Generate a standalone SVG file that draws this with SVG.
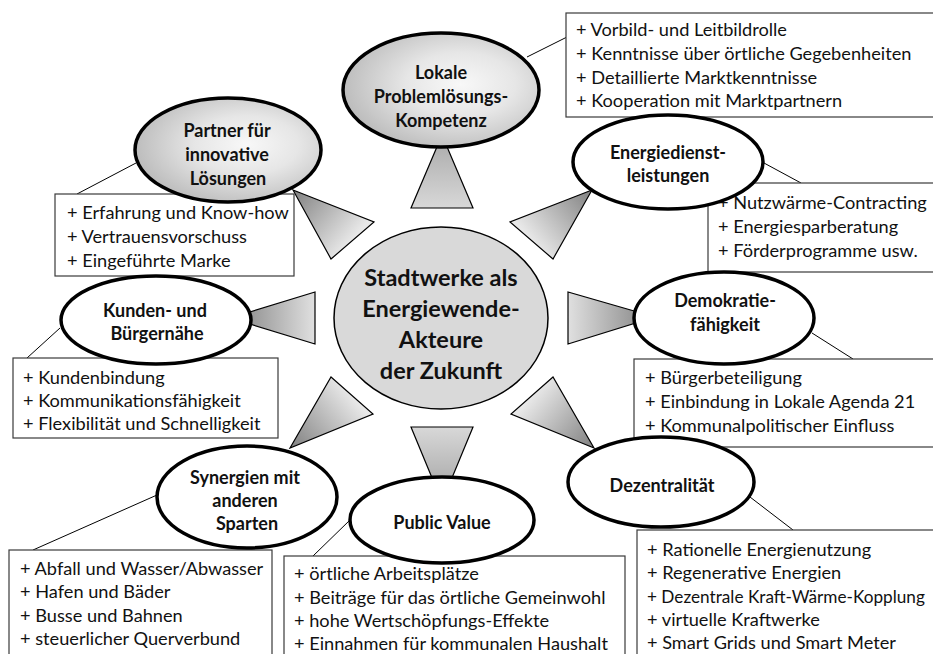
<svg xmlns="http://www.w3.org/2000/svg" width="933" height="654" viewBox="0 0 933 654">
<style>
  .box{fill:#fff;stroke:#3a3a3a;stroke-width:1.2}
  .sat{stroke:#000;stroke-width:3.5}
  .plain{fill:#fff}
  .lead{stroke:#000;stroke-width:1;fill:none}
  .tri{stroke:#000;stroke-width:1.2}
  .t{font-family:Lato,"Liberation Sans",sans-serif;font-size:18.2px;fill:#111}
  .h{font-family:Lato,"Liberation Sans",sans-serif;font-size:18px;font-weight:bold;fill:#111;text-anchor:middle}
  .c{font-family:Lato,"Liberation Sans",sans-serif;font-size:23.5px;font-weight:bold;fill:#111;text-anchor:middle}
</style>
<defs>
  <radialGradient id="gEll" cx="0.6" cy="0.45" r="0.7">
    <stop offset="0" stop-color="#f8f8f8"/>
    <stop offset="0.4" stop-color="#e6e6e6"/>
    <stop offset="1" stop-color="#b0b0b0"/>
  </radialGradient>
  <linearGradient id="gT1" gradientUnits="userSpaceOnUse" x1="352" y1="240" x2="293" y2="190"><stop offset="0" stop-color="#e8e8e8"/><stop offset="1" stop-color="#808080"/></linearGradient>
  <linearGradient id="gT2" gradientUnits="userSpaceOnUse" x1="442" y1="208" x2="442" y2="135"><stop offset="0" stop-color="#d8d8d8"/><stop offset="1" stop-color="#a8a8a8"/></linearGradient>
  <linearGradient id="gT3" gradientUnits="userSpaceOnUse" x1="531" y1="240" x2="592" y2="190"><stop offset="0" stop-color="#e8e8e8"/><stop offset="1" stop-color="#808080"/></linearGradient>
  <linearGradient id="gT4" gradientUnits="userSpaceOnUse" x1="568" y1="318" x2="655" y2="317"><stop offset="0" stop-color="#e0e0e0"/><stop offset="1" stop-color="#808080"/></linearGradient>
  <linearGradient id="gT5" gradientUnits="userSpaceOnUse" x1="532" y1="396" x2="594" y2="448"><stop offset="0" stop-color="#e8e8e8"/><stop offset="1" stop-color="#808080"/></linearGradient>
  <linearGradient id="gT6" gradientUnits="userSpaceOnUse" x1="442" y1="427" x2="442" y2="502"><stop offset="0" stop-color="#d8d8d8"/><stop offset="1" stop-color="#a0a0a0"/></linearGradient>
  <linearGradient id="gT7" gradientUnits="userSpaceOnUse" x1="352" y1="396" x2="290" y2="448"><stop offset="0" stop-color="#e8e8e8"/><stop offset="1" stop-color="#808080"/></linearGradient>
  <linearGradient id="gT8" gradientUnits="userSpaceOnUse" x1="315" y1="318" x2="230" y2="318"><stop offset="0" stop-color="#e0e0e0"/><stop offset="1" stop-color="#808080"/></linearGradient>
</defs>
<rect width="933" height="654" fill="#fff"/>

<g id="connectors">
  <line class="lead" x1="527" y1="57" x2="567" y2="37"/>
  <line class="lead" x1="136" y1="163" x2="77" y2="194"/>
  <line class="lead" x1="764" y1="163" x2="801" y2="183"/>
  <line class="lead" x1="60" y1="328" x2="27" y2="358"/>
  <line class="lead" x1="812" y1="333" x2="853" y2="359"/>
  <line class="lead" x1="157" y1="495" x2="33" y2="550"/>
  <line class="lead" x1="350" y1="520" x2="313" y2="556"/>
  <line class="lead" x1="750" y1="497" x2="793" y2="530"/>
  <polygon class="tri" fill="url(#gT1)" points="293,190 374,222 331,259"/>
  <polygon class="tri" fill="url(#gT2)" points="442,135 411,208 473,208"/>
  <polygon class="tri" fill="url(#gT3)" points="592,190 510,222 553,259"/>
  <polygon class="tri" fill="url(#gT4)" points="655,317 568,292 568,344"/>
  <polygon class="tri" fill="url(#gT5)" points="594,448 511,414 553,377"/>
  <polygon class="tri" fill="url(#gT6)" points="442,502 411,427 473,427"/>
  <polygon class="tri" fill="url(#gT7)" points="290,448 331,377 373,414"/>
  <polygon class="tri" fill="url(#gT8)" points="230,318 315,292 315,344"/>
</g>

<g id="center">
  <ellipse cx="441" cy="318" rx="107" ry="91" fill="#d9d9d9" stroke="#000" stroke-width="1.5"/>
  <text class="c" x="441" y="286">Stadtwerke als</text>
  <text class="c" x="441" y="317">Energiewende-</text>
  <text class="c" x="441" y="348">Akteure</text>
  <text class="c" x="441" y="379">der Zukunft</text>
</g>

<g id="lokale">
  <rect class="box" x="566" y="13" width="380" height="104"/>
  <text class="t" x="576" y="36">+ Vorbild- und Leitbildrolle</text>
  <text class="t" x="576" y="60">+ Kenntnisse über örtliche Gegebenheiten</text>
  <text class="t" x="576" y="84">+ Detaillierte Marktkenntnisse</text>
  <text class="t" x="576" y="107">+ Kooperation mit Marktpartnern</text>
  <ellipse class="sat" cx="441" cy="90" rx="98" ry="57" fill="url(#gEll)"/>
  <text class="h" x="441" y="79">Lokale</text>
  <text class="h" x="441" y="103">Problemlösungs-</text>
  <text class="h" x="441" y="127">Kompetenz</text>
</g>

<g id="partner">
  <rect class="box" x="55" y="194" width="239" height="82"/>
  <text class="t" x="67" y="219">+ Erfahrung und Know-how</text>
  <text class="t" x="67" y="243">+ Vertrauensvorschuss</text>
  <text class="t" x="67" y="267">+ Eingeführte Marke</text>
  <ellipse class="sat" cx="228" cy="150" rx="93" ry="52" fill="url(#gEll)"/>
  <text class="h" x="227" y="137">Partner für</text>
  <text class="h" x="227" y="161">innovative</text>
  <text class="h" x="228" y="185">Lösungen</text>
</g>

<g id="energie">
  <rect class="box" x="708" y="183" width="240" height="89"/>
  <text class="t" x="718" y="209">+ Nutzwärme-Contracting</text>
  <text class="t" x="718" y="233">+ Energiesparberatung</text>
  <text class="t" x="718" y="257">+ Förderprogramme usw.</text>
  <ellipse class="sat plain" cx="668" cy="162" rx="95" ry="47"/>
  <text class="h" x="668" y="159">Energiedienst-</text>
  <text class="h" x="668" y="182">leistungen</text>
</g>

<g id="kunden">
  <rect class="box" x="13" y="358" width="265" height="80"/>
  <text class="t" x="23" y="384">+ Kundenbindung</text>
  <text class="t" x="23" y="407">+ Kommunikationsfähigkeit</text>
  <text class="t" x="23" y="430">+ Flexibilität und Schnelligkeit</text>
  <ellipse class="sat plain" cx="156" cy="320" rx="95" ry="44"/>
  <text class="h" x="155" y="317">Kunden- und</text>
  <text class="h" x="157" y="340">Bürgernähe</text>
</g>

<g id="demokratie">
  <rect class="box" x="634" y="359" width="310" height="88"/>
  <text class="t" x="645" y="384">+ Bürgerbeteiligung</text>
  <text class="t" x="645" y="408">+ Einbindung in Lokale Agenda 21</text>
  <text class="t" x="645" y="432">+ Kommunalpolitischer Einfluss</text>
  <ellipse class="sat plain" cx="724" cy="318" rx="90" ry="46"/>
  <text class="h" x="725" y="307">Demokratie-</text>
  <text class="h" x="725" y="331">fähigkeit</text>
</g>

<g id="synergien">
  <rect class="box" x="9" y="550" width="263" height="110"/>
  <text class="t" x="20" y="575">+ Abfall und Wasser/Abwasser</text>
  <text class="t" x="20" y="598">+ Hafen und Bäder</text>
  <text class="t" x="20" y="622">+ Busse und Bahnen</text>
  <text class="t" x="20" y="645">+ steuerlicher Querverbund</text>
  <ellipse class="sat plain" cx="247" cy="497" rx="90" ry="51"/>
  <text class="h" x="245" y="484">Synergien mit</text>
  <text class="h" x="245" y="507">anderen</text>
  <text class="h" x="247" y="530">Sparten</text>
</g>

<g id="publicvalue">
  <rect class="box" x="284" y="556" width="341" height="104"/>
  <text class="t" x="294" y="580">+ örtliche Arbeitsplätze</text>
  <text class="t" x="294" y="604">+ Beiträge für das örtliche Gemeinwohl</text>
  <text class="t" x="294" y="627">+ hohe Wertschöpfungs-Effekte</text>
  <text class="t" x="294" y="650">+ Einnahmen für kommunalen Haushalt</text>
  <ellipse class="sat plain" cx="442" cy="520" rx="92" ry="43"/>
  <text class="h" x="442" y="529">Public Value</text>
</g>

<g id="dezentral">
  <rect class="box" x="637" y="530" width="310" height="130"/>
  <text class="t" x="647" y="556">+ Rationelle Energienutzung</text>
  <text class="t" x="647" y="579">+ Regenerative Energien</text>
  <text class="t" x="647" y="603" style="font-size:17.2px">+ Dezentrale Kraft-Wärme-Kopplung</text>
  <text class="t" x="647" y="626">+ virtuelle Kraftwerke</text>
  <text class="t" x="647" y="649">+ Smart Grids und Smart Meter</text>
  <ellipse class="sat plain" cx="661" cy="482" rx="93" ry="45"/>
  <text class="h" x="662" y="492">Dezentralität</text>
</g>
</svg>
